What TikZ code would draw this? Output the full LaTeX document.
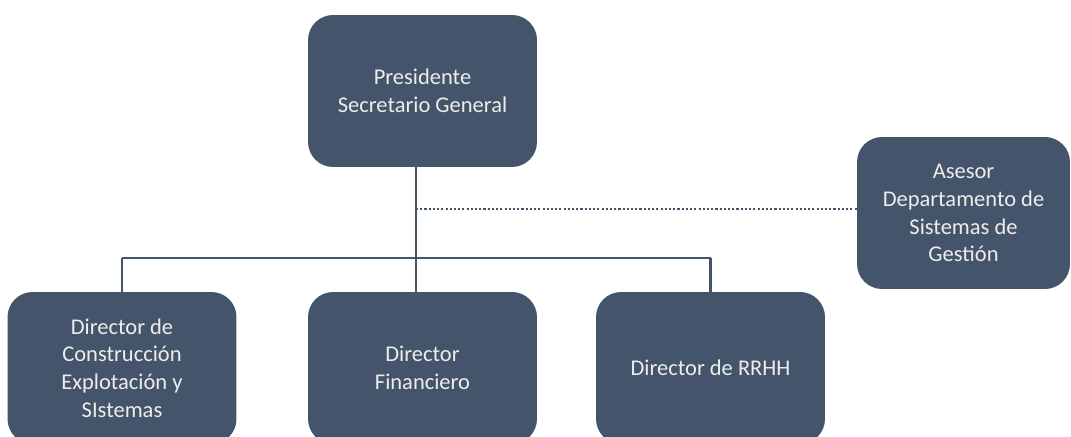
\documentclass[tikz,border=0pt]{standalone}
\usepackage{fontspec}
\setmainfont{Carlito}
\usepackage{xcolor}
\usepackage{tikz}
\usetikzlibrary{calc}

\definecolor{boxblue}{HTML}{44546A}
\definecolor{boxtext}{HTML}{EDEDED}

\begin{document}
\begin{tikzpicture}[x=0.02cm, y=-0.02cm,
    orgbox/.style={rectangle, rounded corners=0.5cm, fill=boxblue, text=boxtext,
        minimum width=4.58cm, minimum height=3.04cm, inner sep=0pt,
        align=center, font=\fontsize{12.8}{15.8}\selectfont},
    link/.style={draw=boxblue, line width=1.5pt},
    dotlink/.style={draw=boxblue, line width=1.4pt, dash pattern=on 1.2pt off 1.2pt}]
    \useasboundingbox (0,0) rectangle (1071,436);
    \clip (0,0) rectangle (1071,436);

    \node[orgbox] (pres) at (422.5,91) {Presidente\\Secretario General};
    \node[orgbox, minimum width=4.26cm] (asesor) at (963.5,213) {Asesor\\Departamento de\\Sistemas de\\Gestión};
    \node[orgbox] (con) at (122,368) {Director de\\Construcción\\Explotación y\\SIstemas};
    \node[orgbox] (fin) at (422.5,368) {Director\\Financiero};
    \node[orgbox] (rrhh) at (710.5,368) {Director de RRHH};

    \coordinate (bar) at (416,258);
    \coordinate (tip) at (416,315);
    \coordinate (dot) at (416,209);

    \draw[link] (pres.south -| tip) -- (tip);
    \draw[link] (con.north |- bar) -- (rrhh.north |- bar);
    \draw[link] (con.north |- bar) -- (con.north);
    \draw[link] (rrhh.north |- bar) -- (rrhh.north);
    \draw[dotlink] (dot) -- (dot -| asesor.west);
\end{tikzpicture}
\end{document}
